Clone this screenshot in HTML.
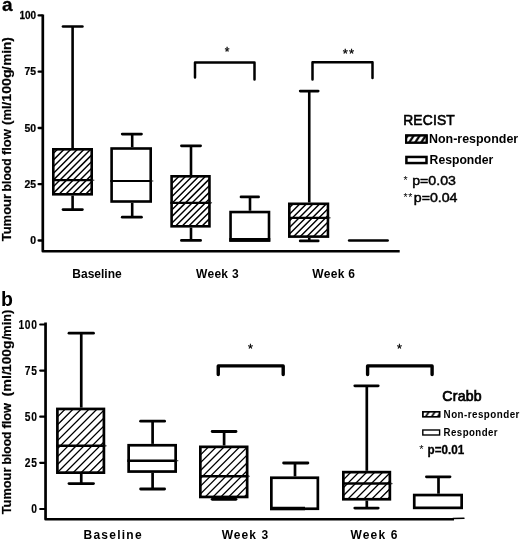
<!DOCTYPE html>
<html><head><meta charset="utf-8"><title>Tumour blood flow</title>
<style>
html,body{margin:0;padding:0;background:#fff;}
body{width:520px;height:539px;overflow:hidden;font-family:"Liberation Sans",sans-serif;}
svg{display:block;will-change:transform;}
svg text{font-family:"Liberation Sans",sans-serif;fill:#000;}
</style></head><body>
<svg width="520" height="539" viewBox="0 0 520 539" stroke="#000" fill="#000">
<defs>
<pattern id="hL" patternUnits="userSpaceOnUse" width="6" height="9" x="0.2">
<path d="M-3,13.5 L9,-4.5 M-9,13.5 L3,-4.5 M3,13.5 L15,-4.5" stroke="#000" stroke-width="2.3" fill="none"/>
</pattern>
<pattern id="hL2" patternUnits="userSpaceOnUse" width="6" height="9" x="1.5">
<path d="M-3,13.5 L9,-4.5 M-9,13.5 L3,-4.5 M3,13.5 L15,-4.5" stroke="#000" stroke-width="1.7" fill="none"/>
</pattern>
</defs>
<rect x="0" y="0" width="520" height="539" fill="#fff" stroke="none"/>

<g id="panelA">
<polyline points="42.8,14.4 42.8,251.25 399.7,251.25" fill="none" stroke-width="2.7" stroke-linejoin="round"/>
<line x1="38.6" y1="15.4" x2="42" y2="15.4" stroke-width="2.3" stroke-linecap="round"/>
<text transform="translate(36.1,19.1) scale(0.86,1)" font-size="11.6" font-weight="bold" text-anchor="end" stroke="#000" stroke-width="0.25">100</text>
<line x1="38.6" y1="71.7" x2="42" y2="71.7" stroke-width="2.3" stroke-linecap="round"/>
<text transform="translate(36.1,75.4) scale(0.9,1)" font-size="11.6" font-weight="bold" text-anchor="end" stroke="#000" stroke-width="0.25">75</text>
<line x1="38.6" y1="128" x2="42" y2="128" stroke-width="2.3" stroke-linecap="round"/>
<text transform="translate(36.1,131.7) scale(0.9,1)" font-size="11.6" font-weight="bold" text-anchor="end" stroke="#000" stroke-width="0.25">50</text>
<line x1="38.6" y1="184.2" x2="42" y2="184.2" stroke-width="2.3" stroke-linecap="round"/>
<text transform="translate(36.1,187.89999999999998) scale(0.9,1)" font-size="11.6" font-weight="bold" text-anchor="end" stroke="#000" stroke-width="0.25">25</text>
<line x1="38.6" y1="240.5" x2="42" y2="240.5" stroke-width="2.3" stroke-linecap="round"/>
<text transform="translate(36.1,244.2) scale(0.9,1)" font-size="11.6" font-weight="bold" text-anchor="end" stroke="#000" stroke-width="0.25">0</text>
<line x1="72.6" y1="26.5" x2="72.6" y2="148.0" stroke-width="2.6"/>
<line x1="63.0" y1="26.5" x2="82.4" y2="26.5" stroke-width="2.7" stroke-linecap="round"/>
<line x1="72.6" y1="195.6" x2="72.6" y2="209.6" stroke-width="2.6"/>
<line x1="63.0" y1="209.6" x2="82.4" y2="209.6" stroke-width="2.7" stroke-linecap="round"/>
<rect x="53.3" y="149.3" width="38.4" height="44.99999999999999" fill="#fff"/>
<clipPath id="c1"><rect x="53.3" y="149.3" width="38.4" height="44.99999999999999"/></clipPath>
<path d="M50.00,143.45L95.00,98.45M50.00,150.10L95.00,105.10M50.00,156.75L95.00,111.75M50.00,163.40L95.00,118.40M50.00,170.05L95.00,125.05M50.00,176.70L95.00,131.70M50.00,183.35L95.00,138.35M50.00,190.00L95.00,145.00M50.00,196.65L95.00,151.65M50.00,203.30L95.00,158.30M50.00,209.95L95.00,164.95M50.00,216.60L95.00,171.60M50.00,223.25L95.00,178.25M50.00,229.90L95.00,184.90M50.00,236.55L95.00,191.55M50.00,243.20L95.00,198.20" clip-path="url(#c1)" stroke-width="1.45" fill="none"/>
<rect x="53.3" y="149.3" width="38.4" height="44.99999999999999" fill="none" stroke-width="2.6"/>
<line x1="52" y1="180.2" x2="93" y2="180.2" stroke-width="2.2"/>
<line x1="92.5" y1="180.2" x2="94.3" y2="180.2" stroke-width="1.1" stroke="#333"/>
<line x1="132.2" y1="134.1" x2="132.2" y2="147.2" stroke-width="2.6"/>
<line x1="122.2" y1="134.1" x2="141.5" y2="134.1" stroke-width="2.7" stroke-linecap="round"/>
<line x1="132.2" y1="202.8" x2="132.2" y2="217.2" stroke-width="2.6"/>
<line x1="122.2" y1="217.2" x2="141.5" y2="217.2" stroke-width="2.7" stroke-linecap="round"/>
<rect x="111.6" y="148.5" width="39.1" height="53.00000000000002" fill="#fff"/>
<rect x="111.6" y="148.5" width="39.1" height="53.00000000000002" fill="none" stroke-width="2.6"/>
<line x1="110.3" y1="181" x2="152" y2="181" stroke-width="2.2"/>
<line x1="151.5" y1="181" x2="153.3" y2="181" stroke-width="1.1" stroke="#333"/>
<line x1="191.0" y1="145.8" x2="191.0" y2="175" stroke-width="2.6"/>
<line x1="181.4" y1="145.8" x2="200.6" y2="145.8" stroke-width="2.7" stroke-linecap="round"/>
<line x1="191.0" y1="227.6" x2="191.0" y2="240.4" stroke-width="2.6"/>
<line x1="181.4" y1="240.4" x2="200.6" y2="240.4" stroke-width="2.7" stroke-linecap="round"/>
<rect x="171.60000000000002" y="176.3" width="37.84999999999999" height="49.99999999999999" fill="#fff"/>
<clipPath id="c2"><rect x="171.60000000000002" y="176.3" width="37.84999999999999" height="49.99999999999999"/></clipPath>
<path d="M168.30,173.76L212.75,129.31M168.30,180.38L212.75,135.93M168.30,187.00L212.75,142.55M168.30,193.62L212.75,149.17M168.30,200.24L212.75,155.79M168.30,206.86L212.75,162.41M168.30,213.48L212.75,169.03M168.30,220.10L212.75,175.65M168.30,226.72L212.75,182.27M168.30,233.34L212.75,188.89M168.30,239.96L212.75,195.51M168.30,246.58L212.75,202.13M168.30,253.20L212.75,208.75M168.30,259.82L212.75,215.37M168.30,266.44L212.75,221.99M168.30,273.06L212.75,228.61" clip-path="url(#c2)" stroke-width="1.45" fill="none"/>
<rect x="171.60000000000002" y="176.3" width="37.84999999999999" height="49.99999999999999" fill="none" stroke-width="2.6"/>
<line x1="170.3" y1="202.8" x2="210.75" y2="202.8" stroke-width="2.2"/>
<line x1="210.25" y1="202.8" x2="212.05" y2="202.8" stroke-width="1.1" stroke="#333"/>
<line x1="250" y1="196.9" x2="250" y2="210.75" stroke-width="2.6"/>
<line x1="241.0" y1="196.9" x2="258.6" y2="196.9" stroke-width="2.7" stroke-linecap="round"/>
<rect x="230.55" y="212.05" width="38.45000000000001" height="28.349999999999987" fill="#fff"/>
<rect x="230.55" y="212.05" width="38.45000000000001" height="28.349999999999987" fill="none" stroke-width="2.6"/>
<line x1="229.25" y1="239.9" x2="270.3" y2="239.9" stroke-width="3.7"/>
<line x1="309.25" y1="91.1" x2="309.25" y2="202.5" stroke-width="2.6"/>
<line x1="300.2" y1="91.1" x2="318.2" y2="91.1" stroke-width="2.7" stroke-linecap="round"/>
<line x1="309.25" y1="237.9" x2="309.25" y2="240.9" stroke-width="2.6"/>
<line x1="300.2" y1="240.9" x2="318.2" y2="240.9" stroke-width="2.7" stroke-linecap="round"/>
<rect x="289.3" y="203.8" width="38.65" height="32.800000000000004" fill="#fff"/>
<clipPath id="c3"><rect x="289.3" y="203.8" width="38.65" height="32.800000000000004"/></clipPath>
<path d="M286.00,204.46L331.25,159.21M286.00,211.08L331.25,165.83M286.00,217.70L331.25,172.45M286.00,224.32L331.25,179.07M286.00,230.94L331.25,185.69M286.00,237.56L331.25,192.31M286.00,244.18L331.25,198.93M286.00,250.80L331.25,205.55M286.00,257.42L331.25,212.17M286.00,264.04L331.25,218.79M286.00,270.66L331.25,225.41M286.00,277.28L331.25,232.03M286.00,283.90L331.25,238.65" clip-path="url(#c3)" stroke-width="1.45" fill="none"/>
<rect x="289.3" y="203.8" width="38.65" height="32.800000000000004" fill="none" stroke-width="2.6"/>
<line x1="288" y1="217.8" x2="329.25" y2="217.8" stroke-width="2.2"/>
<line x1="328.75" y1="217.8" x2="330.55" y2="217.8" stroke-width="1.1" stroke="#333"/>
<line x1="349.2" y1="240.5" x2="387.6" y2="240.5" stroke-width="2.7" stroke-linecap="round"/>
<polyline points="195,77.4 195,62.4 254.5,62.4 254.5,79.4" fill="none" stroke-width="2.5" stroke-linejoin="round" stroke-linecap="round"/>
<polyline points="312.5,79.4 312.5,62.3 372.5,62.3 372.5,78.1" fill="none" stroke-width="2.5" stroke-linejoin="round" stroke-linecap="round"/>
<text x="227.1" y="56.0" font-size="12" font-weight="normal" text-anchor="middle" stroke="#000" stroke-width="0.3">*</text>
<text x="345.4" y="58.2" font-size="13" font-weight="normal" text-anchor="middle" stroke="#000" stroke-width="0.3">*</text>
<text x="351.6" y="58.2" font-size="13" font-weight="normal" text-anchor="middle" stroke="#000" stroke-width="0.3">*</text>
<text x="72.3" y="278" font-size="12" font-weight="bold" text-anchor="start" stroke="none">Baseline</text>
<text x="196" y="278" font-size="12" font-weight="bold" text-anchor="start" letter-spacing="0.3" stroke="none">Week 3</text>
<text x="312.3" y="278" font-size="12" font-weight="bold" text-anchor="start" letter-spacing="0.3" stroke="none">Week 6</text>
<text transform="translate(11.0,241.3) rotate(-90)" font-size="13" font-weight="bold" stroke="#000" stroke-width="0.2">Tumour</text>
<text transform="translate(11.0,191.4) rotate(-90)" font-size="13" font-weight="bold" stroke="#000" stroke-width="0.2" textLength="33.1" lengthAdjust="spacingAndGlyphs">blood</text>
<text transform="translate(11.0,155.1) rotate(-90)" font-size="13" font-weight="bold" stroke="#000" stroke-width="0.2">flow</text>
<text transform="translate(11.0,124.9) rotate(-90)" font-size="13" font-weight="bold" stroke="#000" stroke-width="0.2">(ml/</text>
<text transform="translate(11.0,101.8) rotate(-90)" font-size="13" font-weight="bold" stroke="#000" stroke-width="0.2" textLength="32.6" lengthAdjust="spacingAndGlyphs">100g</text>
<text transform="translate(11.0,70.0) rotate(-90)" font-size="13" font-weight="bold" stroke="#000" stroke-width="0.2">/</text>
<text transform="translate(11.0,65.8) rotate(-90)" font-size="13" font-weight="bold" stroke="#000" stroke-width="0.2" textLength="28.7" lengthAdjust="spacingAndGlyphs">min)</text>
<text x="1.9" y="11.4" font-size="19" font-weight="bold" text-anchor="start" stroke="#000" stroke-width="0.3">a</text>
<text x="403.2" y="124.5" font-size="13.8" font-weight="normal" text-anchor="start" letter-spacing="0.2" stroke="#000" stroke-width="0.6">RECIST</text>
<rect x="406.1" y="135.4" width="20.6" height="7.3" fill="#fff" stroke-width="2"/>
<rect x="406.1" y="135.4" width="20.6" height="7.3" fill="url(#hL)" stroke="none"/>
<rect x="406.1" y="135.4" width="20.6" height="7.3" fill="none" stroke-width="2"/>
<text x="429" y="142.5" font-size="12.45" font-weight="bold" text-anchor="start" stroke="none">Non-responder</text>
<rect x="406.4" y="156.95" width="20.1" height="6.1" fill="#fff" stroke-width="2.5"/>
<text x="429.6" y="163.6" font-size="12.2" font-weight="bold" text-anchor="start" stroke="none">Responder</text>
<text x="403.6" y="183.5" font-size="10.5" stroke="none">*</text>
<text transform="translate(412.2,185) scale(1.09,1)" font-size="13" stroke="#000" stroke-width="0.45">p=0.03</text>
<text x="403.6" y="200.5" font-size="10.5" stroke="none" letter-spacing="0.6">**</text>
<text transform="translate(413.8,202) scale(1.09,1)" font-size="13" stroke="#000" stroke-width="0.45">p=0.04</text>
</g>
<g id="panelB">
<polyline points="45.55,322.6 45.55,519.25 454,519.25" fill="none" stroke-width="2.7" stroke-linejoin="round"/>
<line x1="453" y1="518.5" x2="464" y2="518.3" stroke-width="1.4" stroke-linecap="round"/>
<line x1="40.2" y1="324.5" x2="45" y2="324.5" stroke-width="2.2" stroke-linecap="round"/>
<text transform="translate(37.5,328.5) scale(0.82,1)" font-size="12.5" font-weight="bold" text-anchor="end" letter-spacing="0.8" stroke="#000" stroke-width="0.15">100</text>
<line x1="40.2" y1="370.6" x2="45" y2="370.6" stroke-width="2.2" stroke-linecap="round"/>
<text transform="translate(37.5,374.6) scale(0.82,1)" font-size="12.5" font-weight="bold" text-anchor="end" letter-spacing="0.8" stroke="#000" stroke-width="0.15">75</text>
<line x1="40.2" y1="416.7" x2="45" y2="416.7" stroke-width="2.2" stroke-linecap="round"/>
<text transform="translate(37.5,420.7) scale(0.82,1)" font-size="12.5" font-weight="bold" text-anchor="end" letter-spacing="0.8" stroke="#000" stroke-width="0.15">50</text>
<line x1="40.2" y1="462.8" x2="45" y2="462.8" stroke-width="2.2" stroke-linecap="round"/>
<text transform="translate(37.5,466.8) scale(0.82,1)" font-size="12.5" font-weight="bold" text-anchor="end" letter-spacing="0.8" stroke="#000" stroke-width="0.15">25</text>
<line x1="40.2" y1="509" x2="45" y2="509" stroke-width="2.2" stroke-linecap="round"/>
<text transform="translate(37.5,513.0) scale(0.82,1)" font-size="12.5" font-weight="bold" text-anchor="end" letter-spacing="0.8" stroke="#000" stroke-width="0.15">0</text>
<line x1="81.25" y1="333.2" x2="81.25" y2="407.6" stroke-width="2.7"/>
<line x1="69.0" y1="333.2" x2="93.5" y2="333.2" stroke-width="2.8" stroke-linecap="round"/>
<line x1="81.25" y1="474.0" x2="81.25" y2="483.6" stroke-width="2.7"/>
<line x1="69.0" y1="483.6" x2="93.5" y2="483.6" stroke-width="2.8" stroke-linecap="round"/>
<rect x="57.4" y="408.95000000000005" width="46.5" height="63.699999999999974" fill="#fff"/>
<clipPath id="c4"><rect x="57.4" y="408.95000000000005" width="46.5" height="63.699999999999974"/></clipPath>
<path d="M54.05,404.35L107.25,351.15M54.05,412.30L107.25,359.10M54.05,420.25L107.25,367.05M54.05,428.20L107.25,375.00M54.05,436.15L107.25,382.95M54.05,444.10L107.25,390.90M54.05,452.05L107.25,398.85M54.05,460.00L107.25,406.80M54.05,467.95L107.25,414.75M54.05,475.90L107.25,422.70M54.05,483.85L107.25,430.65M54.05,491.80L107.25,438.60M54.05,499.75L107.25,446.55M54.05,507.70L107.25,454.50M54.05,515.65L107.25,462.45M54.05,523.60L107.25,470.40M54.05,531.55L107.25,478.35" clip-path="url(#c4)" stroke-width="1.3" fill="none"/>
<rect x="57.4" y="408.95000000000005" width="46.5" height="63.699999999999974" fill="none" stroke-width="2.7"/>
<line x1="56.05" y1="445.8" x2="105.25" y2="445.8" stroke-width="2.5"/>
<line x1="104.75" y1="445.8" x2="106.55" y2="445.8" stroke-width="1.1" stroke="#333"/>
<line x1="152.6" y1="421.2" x2="152.6" y2="443.9" stroke-width="2.7"/>
<line x1="140.6" y1="421.2" x2="164.6" y2="421.2" stroke-width="2.8" stroke-linecap="round"/>
<line x1="152.6" y1="472.9" x2="152.6" y2="489" stroke-width="2.7"/>
<line x1="140.6" y1="489" x2="164.6" y2="489" stroke-width="2.8" stroke-linecap="round"/>
<rect x="128.65" y="445.25" width="47.0" height="26.3" fill="#fff"/>
<rect x="128.65" y="445.25" width="47.0" height="26.3" fill="none" stroke-width="2.7"/>
<line x1="127.3" y1="460.7" x2="177" y2="460.7" stroke-width="2.5"/>
<line x1="176.5" y1="460.7" x2="178.3" y2="460.7" stroke-width="1.1" stroke="#333"/>
<line x1="224.1" y1="431.5" x2="224.1" y2="445.5" stroke-width="2.7"/>
<line x1="212.2" y1="431.5" x2="236.0" y2="431.5" stroke-width="2.8" stroke-linecap="round"/>
<line x1="224.1" y1="498.3" x2="224.1" y2="499.3" stroke-width="2.7"/>
<line x1="212.2" y1="499.3" x2="236.0" y2="499.3" stroke-width="2.8" stroke-linecap="round"/>
<rect x="200.35" y="446.85" width="46.8" height="50.10000000000001" fill="#fff"/>
<clipPath id="c5"><rect x="200.35" y="446.85" width="46.8" height="50.10000000000001"/></clipPath>
<path d="M197.00,442.80L250.50,389.30M197.00,450.60L250.50,397.10M197.00,458.40L250.50,404.90M197.00,466.20L250.50,412.70M197.00,474.00L250.50,420.50M197.00,481.80L250.50,428.30M197.00,489.60L250.50,436.10M197.00,497.40L250.50,443.90M197.00,505.20L250.50,451.70M197.00,513.00L250.50,459.50M197.00,520.80L250.50,467.30M197.00,528.60L250.50,475.10M197.00,536.40L250.50,482.90M197.00,544.20L250.50,490.70M197.00,552.00L250.50,498.50" clip-path="url(#c5)" stroke-width="1.3" fill="none"/>
<rect x="200.35" y="446.85" width="46.8" height="50.10000000000001" fill="none" stroke-width="2.7"/>
<line x1="199" y1="476.2" x2="248.5" y2="476.2" stroke-width="2.5"/>
<line x1="248.0" y1="476.2" x2="249.8" y2="476.2" stroke-width="1.1" stroke="#333"/>
<line x1="295" y1="463" x2="295" y2="476.4" stroke-width="2.7"/>
<line x1="283.6" y1="463" x2="307.9" y2="463" stroke-width="2.8" stroke-linecap="round"/>
<rect x="271.35" y="477.75" width="46.499999999999986" height="31.000000000000046" fill="#fff"/>
<rect x="271.35" y="477.75" width="46.499999999999986" height="31.000000000000046" fill="none" stroke-width="2.7"/>
<line x1="270.0" y1="508.45" x2="305" y2="508.45" stroke-width="3.5"/>
<line x1="366.8" y1="385.8" x2="366.8" y2="470.8" stroke-width="2.7"/>
<line x1="354.8" y1="385.8" x2="378.2" y2="385.8" stroke-width="2.8" stroke-linecap="round"/>
<line x1="366.8" y1="500.6" x2="366.8" y2="508.1" stroke-width="2.7"/>
<line x1="354.8" y1="508.1" x2="378.2" y2="508.1" stroke-width="2.8" stroke-linecap="round"/>
<rect x="343.35" y="472.15000000000003" width="46.499999999999986" height="27.100000000000012" fill="#fff"/>
<clipPath id="c6"><rect x="343.35" y="472.15000000000003" width="46.499999999999986" height="27.100000000000012"/></clipPath>
<path d="M340.00,467.20L393.20,414.00M340.00,475.15L393.20,421.95M340.00,483.10L393.20,429.90M340.00,491.05L393.20,437.85M340.00,499.00L393.20,445.80M340.00,506.95L393.20,453.75M340.00,514.90L393.20,461.70M340.00,522.85L393.20,469.65M340.00,530.80L393.20,477.60M340.00,538.75L393.20,485.55M340.00,546.70L393.20,493.50M340.00,554.65L393.20,501.45" clip-path="url(#c6)" stroke-width="1.3" fill="none"/>
<rect x="343.35" y="472.15000000000003" width="46.499999999999986" height="27.100000000000012" fill="none" stroke-width="2.7"/>
<line x1="342.0" y1="483.6" x2="391.2" y2="483.6" stroke-width="2.5"/>
<line x1="390.7" y1="483.6" x2="392.5" y2="483.6" stroke-width="1.1" stroke="#333"/>
<line x1="438.5" y1="476.8" x2="438.5" y2="493.7" stroke-width="2.7"/>
<line x1="426.4" y1="476.8" x2="450.0" y2="476.8" stroke-width="2.8" stroke-linecap="round"/>
<rect x="414.25" y="495.05" width="47.40000000000002" height="12.8" fill="#fff"/>
<rect x="414.25" y="495.05" width="47.40000000000002" height="12.8" fill="none" stroke-width="2.7"/>
<polyline points="218.25,374.5 218.25,365.9 283.2,365.9 283.2,374.5" fill="none" stroke-width="3.4" stroke-linejoin="round" stroke-linecap="round"/>
<polyline points="367.6,374.6 367.6,365.9 432.1,365.9 432.1,374.6" fill="none" stroke-width="3.4" stroke-linejoin="round" stroke-linecap="round"/>
<text x="250.4" y="353.4" font-size="12.5" font-weight="normal" text-anchor="middle" stroke="#000" stroke-width="0.3">*</text>
<text x="399.4" y="353.4" font-size="12.5" font-weight="normal" text-anchor="middle" stroke="#000" stroke-width="0.3">*</text>
<text x="83.5" y="539" font-size="12" font-weight="bold" text-anchor="start" letter-spacing="1.25" stroke="none">Baseline</text>
<text x="221.7" y="539" font-size="12" font-weight="bold" text-anchor="start" letter-spacing="1.05" stroke="none">Week 3</text>
<text x="350.5" y="539" font-size="12" font-weight="bold" text-anchor="start" letter-spacing="1.15" stroke="none">Week 6</text>
<text transform="translate(10.7,514.3) rotate(-90)" font-size="12.8" font-weight="bold" stroke="#000" stroke-width="0.2">Tumour</text>
<text transform="translate(10.7,464.4) rotate(-90)" font-size="12.8" font-weight="bold" stroke="#000" stroke-width="0.2" textLength="32.9" lengthAdjust="spacingAndGlyphs">blood</text>
<text transform="translate(10.7,428.6) rotate(-90)" font-size="12.8" font-weight="bold" stroke="#000" stroke-width="0.2">flow</text>
<text transform="translate(10.7,396.5) rotate(-90)" font-size="12.8" font-weight="bold" stroke="#000" stroke-width="0.2" textLength="25.4" lengthAdjust="spacingAndGlyphs">(ml/</text>
<text transform="translate(10.7,372.0) rotate(-90)" font-size="12.8" font-weight="bold" stroke="#000" stroke-width="0.2" textLength="31.4" lengthAdjust="spacingAndGlyphs">100g</text>
<text transform="translate(10.7,339.8) rotate(-90)" font-size="12.8" font-weight="bold" stroke="#000" stroke-width="0.2">/</text>
<text transform="translate(10.7,336.7) rotate(-90)" font-size="12.8" font-weight="bold" stroke="#000" stroke-width="0.2">min)</text>
<text x="0.9" y="305.5" font-size="19.5" font-weight="bold" text-anchor="start" stroke="none">b</text>
<text x="442.3" y="400.8" font-size="14.1" font-weight="normal" text-anchor="start" letter-spacing="0.25" stroke="#000" stroke-width="0.7">Crabb</text>
<rect x="422.8" y="411.7" width="16.8" height="5" fill="#fff" stroke-width="1.4"/>
<rect x="422.8" y="411.7" width="16.8" height="5" fill="url(#hL2)" stroke="none"/>
<rect x="422.8" y="411.7" width="16.8" height="5" fill="none" stroke-width="1.4"/>
<text transform="translate(443.6,417.6) scale(0.909,1)" font-size="10.8" font-weight="bold" letter-spacing="0.5" stroke="none">Non-responder</text>
<rect x="422.8" y="430.0" width="16.8" height="5.0" fill="#fff" stroke-width="1.4"/>
<text transform="translate(443.6,435.8) scale(0.894,1)" font-size="10.8" font-weight="bold" letter-spacing="0.5" stroke="none">Responder</text>
<text x="419.3" y="453.2" font-size="11" stroke="none">*</text>
<text transform="translate(427.6,454.3) scale(0.95,1)" font-size="12.3" font-weight="bold" stroke="#000" stroke-width="0.3">p=0.01</text>
</g>
</svg></body></html>
